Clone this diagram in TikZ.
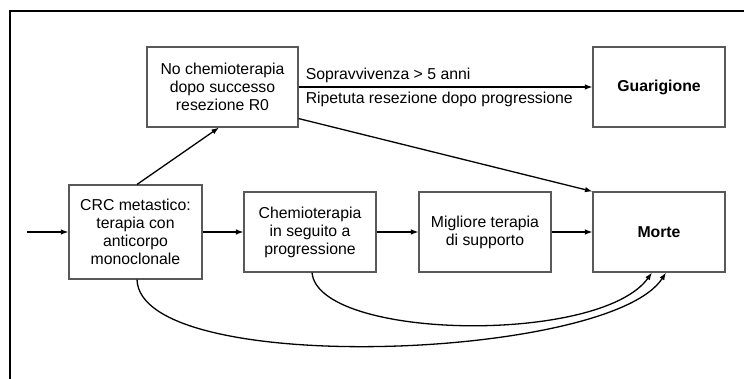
\documentclass[tikz,border=0pt]{standalone}
\usepackage{fontspec}
\setmainfont{Liberation Sans}
\usetikzlibrary{arrows.meta}
\begin{document}
\begin{tikzpicture}[x=1pt,y=-1pt,
  box/.style={draw=black!65,line width=1.1pt,minimum width=132pt,minimum height=80pt,
    inner sep=2pt,align=center,font=\fontsize{15.8}{18}\selectfont},
  conn/.style={line width=1.3pt,-{Latex[length=7.5pt,width=5.5pt]}},
  lbl/.style={font=\fontsize{15.8}{18}\selectfont,inner sep=2pt}]
\useasboundingbox (0,0) rectangle (744,379);
\draw[line width=2.6pt] (10,380) -- (10,11) -- (745,11);

\node[box,minimum width=151pt] (nochemo) at (222.5,87) {No chemioterapia\\dopo successo\\resezione R0};
\node[box] (guar) at (659,87) {\bfseries Guarigione};
\node[box,minimum width=133pt,minimum height=94pt] (crc) at (135.5,232) {CRC metastico:\\terapia con\\anticorpo\\monoclonale};
\node[box] (chemio) at (310,232) {Chemioterapia\\in seguito a\\progressione};
\node[box] (migl) at (485,232) {Migliore terapia\\di supporto};
\node[box] (morte) at (659,232) {\bfseries Morte};

\coordinate (in) at (27,232);
\draw[conn] (in) -- (crc.west);
\draw[conn] (crc.east) -- (chemio.west);
\draw[conn] (chemio.east) -- (migl.west);
\draw[conn] (migl.east) -- (morte.west);
\draw[conn] ([xshift=1.5pt]crc.north) -- ([xshift=-3.5pt]nochemo.south);
\draw[conn] (nochemo.east) -- (guar.west);
\draw[conn] ([yshift=9pt]nochemo.south east) -- (morte.north west);

\node[lbl,anchor=south west] (sopr) at ([xshift=5pt,yshift=2.5pt]nochemo.east) {Sopravvivenza > 5 anni};
\node[lbl,anchor=north west] (ripe) at ([xshift=5pt,yshift=-2.5pt]nochemo.east) {Ripetuta resezione dopo progressione};

\draw[conn] ([xshift=1.5pt]crc.south) .. controls (140,378) and (610,360) .. ([xshift=7pt]morte.south);
\draw[conn] ([xshift=2pt]chemio.south) .. controls (318,340) and (600,345) .. ([xshift=-7pt]morte.south);
\end{tikzpicture}
\end{document}
